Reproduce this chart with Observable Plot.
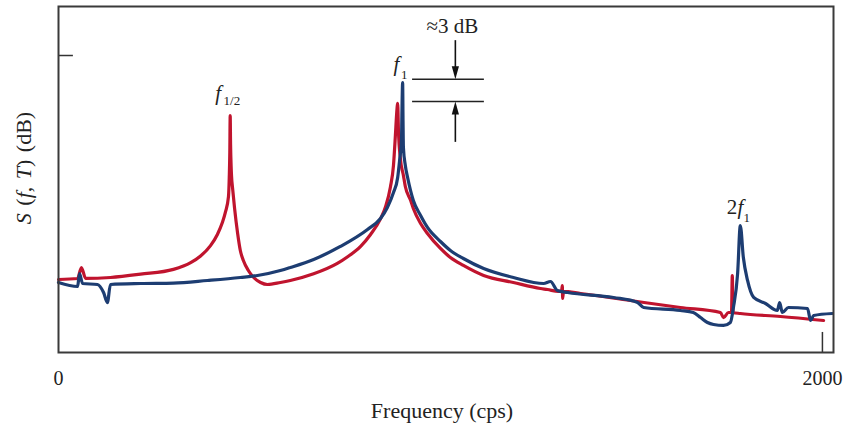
<!DOCTYPE html>
<html>
<head>
<meta charset="utf-8">
<script src="https://cdn.jsdelivr.net/npm/d3@7"></script>
<script src="https://cdn.jsdelivr.net/npm/@observablehq/plot@0.6"></script>
<style>
  html, body { margin: 0; padding: 0; background: #fff; }
</style>
</head>
<body>
<div id="chart"></div>
<script>
// Frequency (cps) and level (dB)
const redFreq = [0, 50, 60, 71, 136, 215, 301, 346, 372, 398, 416, 429, 437, 445, 447, 448.5, 449.5, 450.5, 452, 453, 456, 461, 469, 476, 484, 497, 511, 529, 547, 581, 607, 668, 730, 757, 791, 817, 843, 856, 869, 877, 882, 885, 888, 890, 895, 903, 908, 922, 929, 948, 966, 1000, 1026, 1060, 1113, 1191, 1262, 1280, 1309, 1317, 1319, 1320, 1322, 1367, 1497, 1628, 1733, 1741, 1754, 1762, 1764, 1766, 1785, 1890, 2003];
const redDb   = [9.83, 9.97, 11.45, 9.97, 10.10, 10.55, 11.2, 12.1, 13.0, 14.4, 15.9, 17.5, 18.9, 21.0, 23.5, 27.0, 31.92, 28.0, 25.0, 23.8, 22.0, 19.4, 16.03, 13.74, 12.39, 11.04, 10.10, 9.43, 9.16, 9.43, 9.70, 10.6, 12.0, 12.9, 14.3, 15.9, 18.0, 19.6, 22.3, 25.19, 29.23, 31.92, 33.54, 29.90, 26.13, 23.84, 22.36, 20.47, 19.39, 17.37, 16.03, 14.01, 12.79, 11.72, 10.37, 9.43, 8.62, 8.48, 8.22, 8.22, 9.02, 7.27, 8.22, 7.95, 7.00, 6.06, 5.39, 4.71, 5.39, 5.39, 10.37, 5.39, 5.25, 4.85, 4.31];

const blueFreq = [0, 50, 55, 63, 102, 118, 128, 136, 215, 301, 390, 476, 521, 581, 607, 668, 738, 809, 843, 861, 877, 888, 893, 898, 899, 901, 902, 903, 908, 914, 929, 948, 966, 1000, 1026, 1060, 1113, 1191, 1270, 1288, 1306, 1333, 1453, 1516, 1532, 1628, 1662, 1681, 1699, 1715, 1741, 1759, 1767, 1778, 1785, 1793, 1804, 1820, 1851, 1882, 1888, 1895, 1911, 1961, 1969, 1977, 2026];
const blueDb   = [9.43, 8.89, 10.64, 9.29, 9.16, 8.08, 6.73, 9.16, 9.29, 9.35, 9.70, 10.10, 10.37, 11.04, 11.45, 12.53, 14.28, 16.57, 18.05, 19.53, 21.55, 23.57, 25.86, 28.55, 31.92, 36.36, 31.25, 27.61, 25.19, 23.57, 20.47, 18.45, 16.84, 14.95, 13.74, 12.66, 11.31, 10.10, 9.29, 9.56, 8.35, 8.08, 7.41, 6.73, 6.06, 5.66, 5.39, 4.71, 4.04, 3.77, 3.64, 4.04, 6.06, 10.64, 17.10, 12.79, 9.70, 7.41, 6.60, 5.66, 6.73, 5.39, 6.06, 5.93, 4.31, 4.98, 5.25];

// tick labels
const xTicks = [0, 2000];
const yTickDb = [40];

// peak labels (italic letter, upright prefix, subscript)
const peakText = ["f", "f", "f"];
const peakX = [418, 885, 1785];
const peakY = [34.07, 37.98, 18.59];
const prefixText = ["2"];
const prefixX = [1763];
const prefixY = [18.59];
const subText = ["1/2", "1", "1"];
const subX = [454, 905, 1802];
const subY = [33.27, 36.90, 17.64];

// ≈3 dB annotation
const gapLevels = [36.8, 33.8];
const gapFrom = 927, gapTo = 1115;
const arrowFreq = 1039;
const annotText = "≈3 dB";
const annotX = 1031, annotY = 44.0;

const red = redFreq.map((f, i) => ({f, db: redDb[i]}));
const blue = blueFreq.map((f, i) => ({f, db: blueDb[i]}));

const arrowDownSym = {draw(ctx) { ctx.moveTo(0, 0); ctx.lineTo(-3.6, -13); ctx.lineTo(3.6, -13); ctx.closePath(); }};
const arrowUpSym = {draw(ctx) { ctx.moveTo(0, 0); ctx.lineTo(-3.6, 13); ctx.lineTo(3.6, 13); ctx.closePath(); }};

const chart = Plot.plot({
  width: 847,
  height: 428,
  marginLeft: 58,
  marginRight: 14,
  marginTop: 6,
  marginBottom: 76,
  style: {fontFamily: "'Liberation Serif', 'Times New Roman', serif", fontSize: "20px", background: "#fff", color: "#222"},
  x: {domain: [0, 2029], ticks: xTicks, tickSize: 0, tickPadding: 18, label: null, tickFormat: d => String(d)},
  y: {domain: [0, 46.6], axis: null},
  marks: [
    Plot.ruleY(yTickDb, {x1: 0, x2: 39, stroke: "#333", strokeWidth: 1.5}),
    Plot.ruleX([xTicks[1]], {y1: 0, y2: 2.7, stroke: "#333", strokeWidth: 1.5}),
    Plot.line(red, {x: "f", y: "db", stroke: "#c0142e", strokeWidth: 3.2, strokeLinejoin: "round", curve: "monotone-x"}),
    Plot.line(blue, {x: "f", y: "db", stroke: "#1d3d72", strokeWidth: 3.2, strokeLinejoin: "round", curve: "monotone-x"}),
    Plot.ruleY(gapLevels, {x1: gapFrom, x2: gapTo, stroke: "#222", strokeWidth: 1.6}),
    Plot.ruleX([{y1: 42.0, y2: 38.0}, {y1: 28.3, y2: 32.5}], {x: () => arrowFreq, y1: "y1", y2: "y2", stroke: "#111", strokeWidth: 1.6}),
    Plot.dot([gapLevels[0]], {x: () => arrowFreq, y: d => d, symbol: arrowDownSym, fill: "#111", stroke: "none"}),
    Plot.dot([gapLevels[1]], {x: () => arrowFreq, y: d => d, symbol: arrowUpSym, fill: "#111", stroke: "none"}),
    Plot.text([annotText], {x: () => annotX, y: () => annotY, text: d => d, fontSize: 21, fill: "#222", lineAnchor: "middle"}),
    Plot.text(peakText, {x: (d, i) => peakX[i], y: (d, i) => peakY[i], text: d => d, fontStyle: "italic", fontSize: 21, lineAnchor: "bottom", fill: "#222"}),
    Plot.text(prefixText, {x: (d, i) => prefixX[i], y: (d, i) => prefixY[i], text: d => d, fontSize: 21, lineAnchor: "bottom", fill: "#222"}),
    Plot.text(subText, {x: (d, i) => subX[i], y: (d, i) => subY[i], text: d => d, fontSize: 13, lineAnchor: "bottom", fill: "#222"}),
    Plot.text(["Frequency (cps)"], {frameAnchor: "bottom", dx: -4, dy: 58, text: d => d, lineAnchor: "middle", fontSize: 22, fill: "#222"}),
    Plot.frame({stroke: "#3a3a3a", strokeWidth: 2})
  ]
});

// y-axis title with mixed italic parts
const svg = d3.select(chart);
const yt = svg.append("text")
  .attr("transform", "translate(23,168) rotate(-90)")
  .attr("text-anchor", "middle")
  .attr("dominant-baseline", "central")
  .attr("fill", "#222")
  .attr("font-size", 22)
  .attr("word-spacing", 2);
[["S", true], [" (", false], ["f", true], [", ", false], ["T", true], [") (dB)", false]].forEach(([t, it]) => {
  yt.append("tspan").attr("font-style", it ? "italic" : "normal").text(t);
});

document.getElementById("chart").appendChild(chart);
</script>
</body>
</html>
